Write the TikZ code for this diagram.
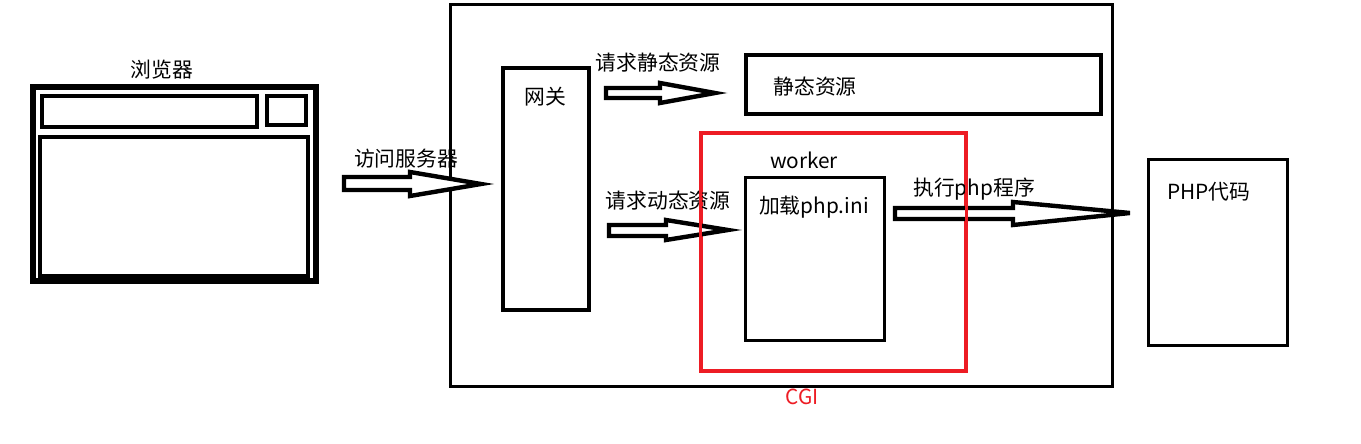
\documentclass[tikz,border=0pt]{standalone}
\usepackage{fontspec}
\setmainfont{Noto Sans CJK SC}
\begin{document}
\begin{tikzpicture}[x=0.5pt,y=-0.5pt,
  lbl/.style={font=\fontsize{10.4pt}{12pt}\selectfont, inner sep=0pt},
  box/.style={draw=black, line width=1.6pt},
  barrow/.style={draw=black, line width=2.2pt, line join=miter, fill=white},
]
\definecolor{cgired}{RGB}{237,28,36}
\useasboundingbox (0,0) rectangle (1361,444);
% browser
\draw[line width=2.7pt] (33,87) rectangle (316,281);
\draw[line width=2.1pt] (42,96) rectangle (257,127);
\draw[line width=2.1pt] (267,96) rectangle (306,125);
\draw[line width=2.1pt] (40,137) rectangle (308,276);
\node[lbl] (browser) at (162,70) {浏览器};
% server box
\node[draw, line width=1.5pt, minimum width=331pt, minimum height=190.5pt, inner sep=0pt] (server) at (781,195.5) {};
% gateway
\node[box, line width=2pt, minimum width=43pt, minimum height=121pt, inner sep=0pt] (gw) at (546,189) {};
\node[lbl] (gwl) at (545,97) {网关};
% static
\node[box, line width=2.2pt, minimum width=177.5pt, minimum height=29.5pt, inner sep=0pt] (static) at (923.5,84.5) {};
\node[lbl] (staticl) at (815,87) {静态资源};
\node[lbl] (reqs) at (658,63) {请求静态资源};
% CGI
\node[draw=cgired, line width=1.3pt, minimum width=131.5pt, minimum height=118pt, inner sep=0pt] (cgi) at (833.5,252) {};
\node[lbl, text=cgired] (cgil) at (802,397) {CGI};
% worker
\node[lbl] (workerl) at (804,160) {worker};
\node[box, line width=1.5pt, minimum width=69.5pt, minimum height=81pt, inner sep=0pt] (worker) at (814.5,259) {};
\node[lbl] (load) at (814,207) {加载php.ini};
\node[lbl] (reqd) at (668,201) {请求动态资源};
% PHP code
\node[box, line width=1.5pt, minimum width=69.5pt, minimum height=92.5pt, inner sep=0pt] (php) at (1217.5,252.5) {};
\node[lbl] (phpl) at (1209,192) {PHP代码};
\node[lbl] (exec) at (974,189) {执行php程序};
\node[lbl] (visit) at (406,159) {访问服务器};
% arrows
\draw[barrow] (344,177) -- (410,177) -- (410,172) -- (481,184) -- (410,196) -- (410,190) -- (344,190) -- cycle;
\draw[barrow] (606,88) -- (660,88) -- (660,83) -- (715,93) -- (660,103) -- (660,98) -- (606,98) -- cycle;
\draw[barrow] (609,225) -- (666,225) -- (666,220) -- (728,230) -- (666,240) -- (666,236) -- (609,236) -- cycle;
\draw[barrow] (895,208) -- (1013,208) -- (1013,202) -- (1130,213) -- (1013,225) -- (1013,219) -- (895,219) -- cycle;
\draw[cgired, line width=1.3pt] (cgi.north west) rectangle (cgi.south east);
\end{tikzpicture}
\end{document}
